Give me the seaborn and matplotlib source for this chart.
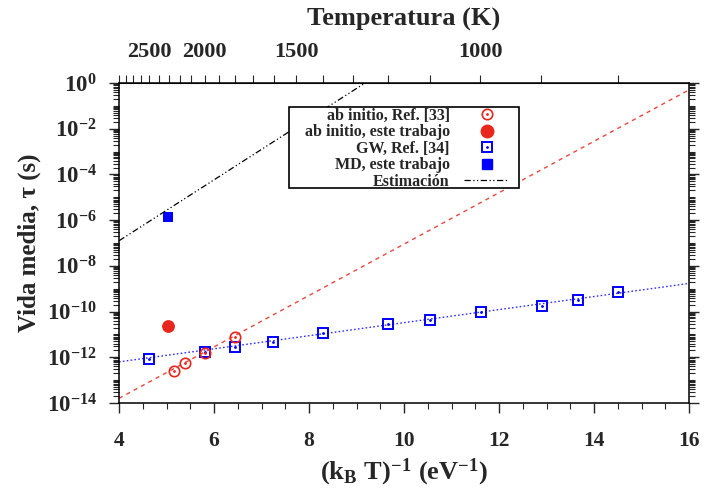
import numpy as np
import pandas as pd
import matplotlib
matplotlib.use("Agg")
import matplotlib.pyplot as plt
import seaborn as sns
from matplotlib.lines import Line2D
from matplotlib.patches import Rectangle
from matplotlib.legend_handler import HandlerTuple
from matplotlib.ticker import LogLocator, FuncFormatter, MultipleLocator, FixedLocator, NullFormatter

# ---------------- data ----------------
gw_x = [4.63, 5.81, 6.44, 7.24, 8.29, 9.66, 10.55, 11.62, 12.91, 13.66, 14.51]
gw_tau = [8.5e-13, 1.74e-12, 2.9e-12, 4.8e-12, 1.17e-11, 2.9e-11, 4.4e-11, 9.8e-11, 1.78e-10, 3.2e-10, 7.2e-10]

ai_ref_x = [5.16, 5.39, 5.81, 6.44]
ai_ref_tau = [2.6e-13, 5.8e-13, 1.6e-12, 7.9e-12]

ai_this_x = [5.04]
ai_this_tau = [2.45e-11]

md_this_x = [5.04]
md_this_tau = [1.4e-6]

fit_x = [4.0, 16.0]
fit_red_tau = [1.6e-14, 0.5]
fit_blue_tau = [6.3e-13, 1.7e-9]

est_x = [4.0, 9.18]
est_tau = [1.25e-7, 1.0]

top_major_T = [2500, 2000, 1500, 1000]
top_minor_T = list(range(800, 3000, 100))

labels = ["ab initio, Ref. [33]", "ab initio, este trabajo", "GW, Ref. [34]",
          "MD, este trabajo", "Estimación"]

kB = 8.617e-5

# ---------------- style ----------------
sns.set_style("ticks")
plt.rcParams["font.family"] = ["Liberation Serif", "DejaVu Serif"]
plt.rcParams["font.weight"] = "bold"
plt.rcParams["mathtext.fontset"] = "custom"
plt.rcParams["mathtext.bf"] = "Liberation Serif:bold"
plt.rcParams["mathtext.rm"] = "Liberation Serif:bold"
plt.rcParams["mathtext.it"] = "Liberation Serif:bold"
plt.rcParams["axes.unicode_minus"] = True

RED = "#e8261c"
BLUE = "#0000ff"

fig = plt.figure(figsize=(7.07, 4.95), dpi=100)
ax = fig.add_axes([119/707, 1-403/495, 570/707, 320/495])

# fit lines
sns.lineplot(x=fit_x, y=fit_red_tau, ax=ax, color=RED, lw=1.0, linestyle=(0, (3, 3)), alpha=0.85)
sns.lineplot(x=fit_x, y=fit_blue_tau, ax=ax, color=BLUE, lw=1.0, linestyle=(0, (1.2, 1.6)), alpha=0.8)
sns.lineplot(x=est_x, y=est_tau, ax=ax, color="black", lw=0.9, linestyle=(0, (5, 2, 1, 2, 1, 2)))

# points
ax.plot(gw_x, gw_tau, ls="none", marker="s", ms=7.5, mfc="none", mec=BLUE, mew=1.4)
ax.plot(gw_x, gw_tau, ls="none", marker=".", ms=2, color=BLUE)
ax.plot(ai_ref_x, ai_ref_tau, ls="none", marker="o", ms=7.5, mfc="none", mec=RED, mew=1.2)
ax.plot(ai_ref_x, ai_ref_tau, ls="none", marker=".", ms=2, color=RED)
sns.scatterplot(x=ai_this_x, y=ai_this_tau, ax=ax, color=RED, marker="o", s=85, edgecolor=RED, linewidth=0)
sns.scatterplot(x=md_this_x, y=md_this_tau, ax=ax, color=BLUE, marker="s", s=52, edgecolor=BLUE, linewidth=0)

ax.set_yscale("log")
ax.set_xlim(4, 16)
ax.set_ylim(1e-14, 1)

# ticks
ax.xaxis.set_major_locator(MultipleLocator(2))
ax.xaxis.set_minor_locator(MultipleLocator(0.5))
ax.yaxis.set_major_locator(FixedLocator([10.0**e for e in range(-14, 1, 2)]))
ax.yaxis.set_minor_locator(LogLocator(base=10, subs=np.arange(1, 10), numticks=40))
ax.yaxis.set_minor_formatter(NullFormatter())

def yfmt(v, pos):
    e = int(round(np.log10(v)))
    return r"$\mathbf{10^{%d}}$" % e if e >= 0 else r"$\mathbf{10^{-%d}}$" % (-e)

ax.yaxis.set_major_formatter(FuncFormatter(yfmt))
ax.xaxis.set_major_formatter(FuncFormatter(lambda v, p: f"{int(round(v))}"))

ax.tick_params(axis="both", which="both", direction="out")
ax.tick_params(axis="y", which="both", right=True, left=True, labelsize=16.5, pad=9)
ax.tick_params(axis="x", which="both", top=False, labelsize=15.5, pad=13)
ax.tick_params(which="major", length=7, width=1.0)
ax.tick_params(which="minor", length=4, width=0.8)
for lab in ax.get_xticklabels() + ax.get_yticklabels():
    lab.set_fontweight("bold")
for s in ax.spines.values():
    s.set_linewidth(1.1)
    s.set_visible(True)
    s.set_color("black")

ax.set_xlabel(r"$\mathbf{(k_B\ T)^{-1}\ (eV^{-1})}$", fontsize=19, labelpad=4)
ax.set_ylabel("Vida media, τ (s)", fontsize=18, fontweight="bold", labelpad=4)

# top temperature axis
sec = ax.secondary_xaxis("top", functions=(lambda x: 1.0/(kB*np.asarray(x, dtype=float)),
                                          lambda T: 1.0/(kB*np.asarray(T, dtype=float))))
sec.xaxis.set_major_locator(FixedLocator(top_major_T))
sec.xaxis.set_minor_locator(FixedLocator([t for t in top_minor_T if t not in top_major_T]))
sec.xaxis.set_major_formatter(FuncFormatter(lambda v, p: f"{int(round(v))}"))
sec.tick_params(which="both", direction="out", labelsize=16, pad=9)
sec.tick_params(which="major", length=6)
sec.tick_params(which="minor", length=6, width=0.8)
for lab in sec.get_xticklabels():
    lab.set_fontweight("bold")
sec.set_xlabel("Temperatura (K)", fontsize=19, fontweight="bold", labelpad=12)

# legend box (frame drawn separately so it can be wider than its content)
box = Rectangle((0.298, 0.672), 0.404, 0.253, transform=ax.transAxes,
                facecolor="white", edgecolor="black", lw=1.2, zorder=4)
ax.add_patch(box)

h_ai_ref = (Line2D([], [], ls="none", marker="o", ms=7.5, mfc="none", mec=RED, mew=1.2),
            Line2D([], [], ls="none", marker=".", ms=2, color=RED))
h_ai_this = Line2D([], [], ls="none", marker="o", ms=9, color=RED)
h_gw = (Line2D([], [], ls="none", marker="s", ms=7.5, mfc="none", mec=BLUE, mew=1.4),
        Line2D([], [], ls="none", marker=".", ms=2, color=BLUE))
h_md = Line2D([], [], ls="none", marker="s", ms=7.2, color=BLUE)
h_est = Line2D([], [], color="black", lw=0.9, linestyle=(0, (5, 2, 1, 2, 1, 2)))

leg = ax.legend([h_ai_ref, h_ai_this, h_gw, h_md, h_est], labels,
                handler_map={tuple: HandlerTuple(ndivide=1)},
                loc="upper right", bbox_to_anchor=(0.684, 0.922), markerfirst=False,
                prop={"weight": "bold", "size": 11.5},
                frameon=False,
                labelspacing=0.03, borderpad=0.0, handlelength=2.8, handletextpad=0.9,
                borderaxespad=0)
leg.set_zorder(5)

fig.savefig("out.png", dpi=100)
